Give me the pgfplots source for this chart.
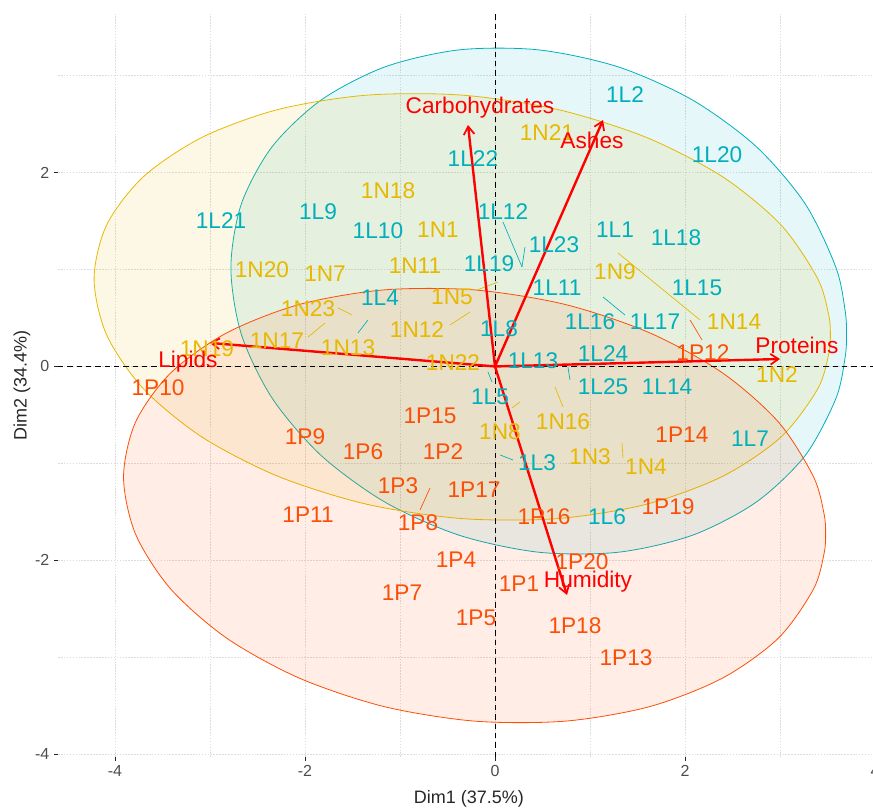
\documentclass[border=0pt]{standalone}
\usepackage{pgfplots}
\usepackage{pgfplotstable}
\pgfplotsset{compat=1.18}
\usepackage{fontspec}
\setmainfont{Liberation Sans}
\usetikzlibrary{arrows.meta}
\definecolor{cL}{HTML}{00AFBB}
\definecolor{cN}{HTML}{E7B800}
\definecolor{cP}{HTML}{FC4E07}
\definecolor{tickgray}{HTML}{4D4D4D}
\definecolor{gridgray}{HTML}{DCDCDC}
\newcommand\lbl{\fontsize{17}{20}\selectfont}

\pgfplotstableread{
x y label
1.263 1.409 1L1
1.368 2.802 1L2
0.442 -0.996 1L3
-1.211 0.707 1L4
-0.053 -0.315 1L5
1.179 -1.553 1L6
2.684 -0.748 1L7
0.042 0.387 1L8
-1.863 1.594 1L9
-1.232 1.398 1L10
0.653 0.810 1L11
0.084 1.594 1L12
0.400 0.057 1L13
1.811 -0.212 1L14
2.126 0.810 1L15
1.000 0.459 1L16
1.684 0.459 1L17
1.905 1.326 1L18
-0.063 1.058 1L19
2.337 2.183 1L20
-2.884 1.502 1L21
-0.232 2.141 1L22
0.621 1.254 1L23
1.137 0.129 1L24
1.137 -0.212 1L25
}\tabL

\pgfplotstableread{
x y label
-0.600 1.409 1N1
2.968 -0.088 1N2
1.000 -0.934 1N3
1.589 -1.037 1N4
-0.453 0.717 1N5
-1.789 0.955 1N7
0.053 -0.676 1N8
1.263 0.975 1N9
-0.842 1.037 1N11
-0.821 0.377 1N12
-1.547 0.191 1N13
2.516 0.459 1N14
0.716 -0.573 1N16
-2.295 0.263 1N17
-1.126 1.811 1N18
-3.032 0.181 1N19
-2.453 0.996 1N20
0.547 2.409 1N21
-0.442 0.036 1N22
-1.968 0.593 1N23
}\tabN

\pgfplotstableread{
x y label
0.253 -2.245 1P1
-0.547 -0.882 1P2
-1.021 -1.233 1P3
-0.411 -1.997 1P4
-0.200 -2.595 1P5
-1.389 -0.882 1P6
-0.979 -2.337 1P7
-0.811 -1.615 1P8
-2.000 -0.728 1P9
-3.547 -0.222 1P10
-1.968 -1.533 1P11
2.189 0.139 1P12
1.379 -3.008 1P13
1.968 -0.707 1P14
-0.684 -0.511 1P15
0.516 -1.553 1P16
-0.221 -1.274 1P17
0.842 -2.678 1P18
1.821 -1.450 1P19
0.916 -2.018 1P20
}\tabP

\pgfplotstableread{
x y label
-0.158 2.668 Carbohydrates
1.021 2.337 Ashes
3.179 0.222 Proteins
-3.232 0.046 Lipids
0.979 -2.224 Humidity
}\tabV

\begin{document}
\begin{tikzpicture}
\begin{axis}[
  x=71.25pt, y=72.675pt,
  xmin=-4.6, xmax=4.05, ymin=-4.03, ymax=3.64,
  axis line style={draw=none},
  xtick={-4,-2,0,2,4}, ytick={-4,-2,0,2},
  minor xtick={-3,-1,1,3}, minor ytick={-3,-1,1,3},
  grid=both,
  major grid style={gridgray, dash pattern=on 1.2pt off 1pt, line width=0.6pt},
  minor grid style={gridgray, dash pattern=on 1.2pt off 1pt, line width=0.5pt},
  tick align=outside, major tick length=3pt, minor tick length=0pt,
  xtick pos=lower, ytick pos=left,
  tick style={black!85, line width=0.7pt},
  ticklabel style={font=\fontsize{12}{14}\selectfont, text=tickgray},
  /pgf/number format/assume math mode=true,
  xlabel={Dim1 (37.5\%)}, ylabel={Dim2 (34.4\%)},
  label style={font=\fontsize{13.5}{16}\selectfont, text=black!85},
  xlabel style={at={(axis description cs:0.5,-0.0565)}, anchor=center},
  ylabel style={at={(axis description cs:-0.0438,0.5)}, anchor=center},
]
% ellipses
\addplot[cL, line width=0.6pt, fill=cL, fill opacity=0.1, smooth] coordinates {
(3.700,0.332) (3.688,0.561) (3.590,1.018) (3.266,1.677) (2.751,2.268) (2.080,2.749) (1.299,3.091)
(0.460,3.267) (-0.379,3.267) (-1.160,3.091) (-1.831,2.749) (-2.346,2.268) (-2.670,1.677)
(-2.780,1.018) (-2.670,0.332) (-2.346,-0.327) (-1.831,-0.918) (-1.160,-1.399) (-0.379,-1.741)
(0.460,-1.917) (1.299,-1.917) (2.080,-1.741) (2.751,-1.399) (3.266,-0.918) (3.590,-0.327)
(3.688,0.109) (3.700,0.332)} -- cycle;
\addplot[cN, line width=0.6pt, fill=cN, fill opacity=0.1, smooth] coordinates {
(3.530,0.326) (3.515,0.519) (3.398,0.904) (3.011,1.460) (2.395,1.958) (1.593,2.364) (0.659,2.652)
(-0.345,2.800) (-1.349,2.800) (-2.283,2.652) (-3.085,2.364) (-3.701,1.958) (-4.088,1.460)
(-4.220,0.904) (-4.088,0.326) (-3.701,-0.230) (-3.085,-0.728) (-2.283,-1.134) (-1.349,-1.422)
(-0.345,-1.570) (0.659,-1.570) (1.593,-1.422) (2.395,-1.134) (3.011,-0.728) (3.398,-0.230)
(3.515,0.138) (3.530,0.326)} -- cycle;
\addplot[cP, line width=0.6pt, fill=cP, fill opacity=0.1, smooth] coordinates {
(3.480,-1.729) (3.466,-1.533) (3.354,-1.141) (2.985,-0.575) (2.397,-0.068) (1.633,0.345) (0.742,0.639)
(-0.215,0.790) (-1.172,0.790) (-2.063,0.639) (-2.827,0.345) (-3.415,-0.068) (-3.784,-0.575)
(-3.910,-1.141) (-3.784,-1.729) (-3.415,-2.295) (-2.827,-2.802) (-2.063,-3.215) (-1.172,-3.509)
(-0.215,-3.660) (0.742,-3.660) (1.633,-3.509) (2.397,-3.215) (2.985,-2.802) (3.354,-2.295)
(3.466,-1.921) (3.480,-1.729)} -- cycle;
% zero lines
\addplot[black, line width=0.7pt, dash pattern=on 4pt off 3pt] coordinates {(0,-4.03) (0,3.64)};
\addplot[black, line width=0.7pt, dash pattern=on 4pt off 3pt] coordinates {(-4.6,0) (4.05,0)};
% repel segments
\addplot[cL, line width=0.5pt] coordinates {(0.084,1.491) (0.284,1.027)};
\addplot[cL, line width=0.5pt] coordinates {(0.316,1.233) (0.284,1.027)};
\addplot[cN, line width=0.5pt] coordinates {(1.295,1.171) (2.158,0.480)};
\addplot[cL, line width=0.5pt] coordinates {(1.137,0.717) (1.368,0.531)};
\addplot[cP, line width=0.5pt] coordinates {(2.053,0.480) (2.179,0.274)};
\addplot[cN, line width=0.5pt] coordinates {(-0.474,0.428) (-0.263,0.562)};
\addplot[cN, line width=0.5pt] coordinates {(-0.189,0.789) (0.032,0.872)};
\addplot[cN, line width=0.5pt] coordinates {(-1.653,0.604) (-1.505,0.531)};
\addplot[cN, line width=0.5pt] coordinates {(-1.968,0.304) (-1.789,0.449)};
\addplot[cL, line width=0.5pt] coordinates {(-1.442,0.346) (-1.337,0.480)};
\addplot[cL, line width=0.5pt] coordinates {(-0.074,-0.057) (-0.032,-0.160)};
\addplot[cN, line width=0.5pt] coordinates {(0.179,-0.428) (0.263,-0.366)};
\addplot[cL, line width=0.5pt] coordinates {(0.053,-0.913) (0.189,-0.965)};
\addplot[cN, line width=0.5pt] coordinates {(0.632,-0.212) (0.716,-0.418)};
\addplot[cL, line width=0.5pt] coordinates {(0.768,-0.005) (0.789,-0.139)};
\addplot[cP, line width=0.5pt] coordinates {(-0.684,-1.254) (-0.789,-1.481)};
\addplot[cN, line width=0.5pt] coordinates {(1.337,-0.789) (1.347,-0.944)};
% labels
\addplot[draw=none, mark=none, nodes near coords, point meta=explicit symbolic,
  nodes near coords style={anchor=center, text=cL, font=\lbl, inner sep=0pt}]
  table[x=x, y=y, meta=label] {\tabL};
\addplot[draw=none, mark=none, nodes near coords, point meta=explicit symbolic,
  nodes near coords style={anchor=center, text=cN, font=\lbl, inner sep=0pt}]
  table[x=x, y=y, meta=label] {\tabN};
\addplot[draw=none, mark=none, nodes near coords, point meta=explicit symbolic,
  nodes near coords style={anchor=center, text=cP, font=\lbl, inner sep=0pt}]
  table[x=x, y=y, meta=label] {\tabP};
% variable arrows
\addplot[red, line width=1.8pt, -{Straight Barb[length=6pt, width=8pt, line width=1.3pt]}] coordinates {(0,0) (-0.284,2.492)};
\addplot[red, line width=1.8pt, -{Straight Barb[length=6pt, width=8pt, line width=1.3pt]}] coordinates {(0,0) (1.137,2.543)};
\addplot[red, line width=1.8pt, -{Straight Barb[length=6pt, width=8pt, line width=1.3pt]}] coordinates {(0,0) (3.0,0.077)};
\addplot[red, line width=1.8pt, -{Straight Barb[length=6pt, width=8pt, line width=1.3pt]}] coordinates {(0,0) (-3.0,0.243)};
\addplot[red, line width=1.8pt, -{Straight Barb[length=6pt, width=8pt, line width=1.3pt]}] coordinates {(0,0) (0.758,-2.358)};
\addplot[draw=none, mark=none, nodes near coords, point meta=explicit symbolic,
  nodes near coords style={anchor=center, text=red, font=\lbl, inner sep=0pt}]
  table[x=x, y=y, meta=label] {\tabV};
\coordinate (bbsw) at (axis cs:-5.2105,-4.567);
\coordinate (bbne) at (axis cs:3.979,3.782);
\end{axis}
\pgfresetboundingbox
\useasboundingbox (bbsw) rectangle (bbne);
\end{tikzpicture}
\end{document}
